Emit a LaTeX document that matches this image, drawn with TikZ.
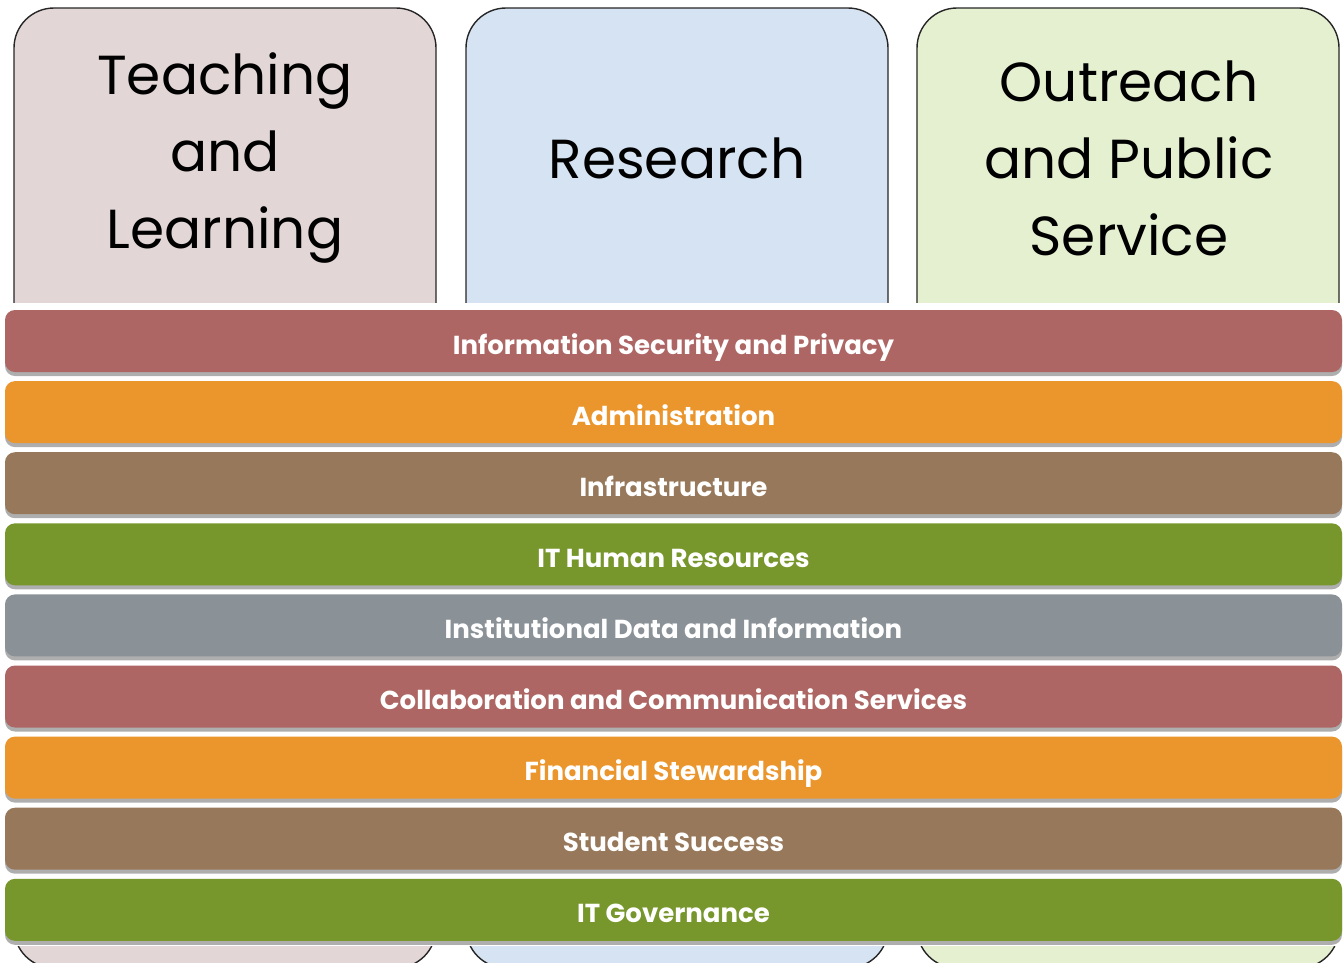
\documentclass[tikz,border=0pt]{standalone}
\usepackage{fontspec}
\setmainfont{Poppins}
\usetikzlibrary{shadows}

\definecolor{pinkbg}{HTML}{E2D7D6}
\definecolor{bluebg}{HTML}{D6E3F2}
\definecolor{greenbg}{HTML}{E5F0D0}
\definecolor{bandred}{HTML}{AD6663}
\definecolor{bandorange}{HTML}{EB962D}
\definecolor{bandbrown}{HTML}{97785A}
\definecolor{bandgreen}{HTML}{77972C}
\definecolor{bandgray}{HTML}{8A9298}

\tikzset{
  pillar/.style={draw=black!85, line width=1.4pt, rounded corners=40pt},
  pillartext/.style={align=center, font=\fontsize{55}{77}\selectfont, text=black},
  band/.style={fill=#1, rounded corners=10pt, minimum width=1337pt, minimum height=62pt,
    inner sep=0pt, text height=26pt, text depth=0pt, text=white,
    font=\fontsize{26}{30}\selectfont\bfseries,
    drop shadow={shadow xshift=0pt, shadow yshift=-4pt, opacity=0.45, fill=black!70}},
}

\begin{document}
\begin{tikzpicture}[x=1pt, y=-1pt]
        \useasboundingbox (0, 0) rectangle (1344, 962);

        % the three pillars, running behind the bands
        \draw[pillar, fill=pinkbg] (14, 8) rectangle (436, 968);
        \draw[pillar, fill=bluebg] (466, 8) rectangle (888, 968);
        \draw[pillar, fill=greenbg] (917, 8) rectangle (1339, 968);

        \node[pillartext] (teaching) at (225, 158) {Teaching\\and\\Learning};
        \node[pillartext] (research) at (677, 158) {Research};
        \node[pillartext] (outreach) at (1129, 158) {Outreach\\and Public\\Service};

        % white ground under the bands
        \fill[white] (0, 303) rectangle (1344, 946);

        % the bands
        \foreach \col/\txt [count=\i] in {
            bandred/Information Security and Privacy,
            bandorange/Administration,
            bandbrown/Infrastructure,
            bandgreen/IT Human Resources,
            bandgray/Institutional Data and Information,
            bandred/Collaboration and Communication Services,
            bandorange/Financial Stewardship,
            bandbrown/Student Success,
            bandgreen/IT Governance}
          \node[band=\col] (band\i) at (673.5, {341 + (\i - 1) * 71.1}) {\txt};
      \end{tikzpicture}
\end{document}
